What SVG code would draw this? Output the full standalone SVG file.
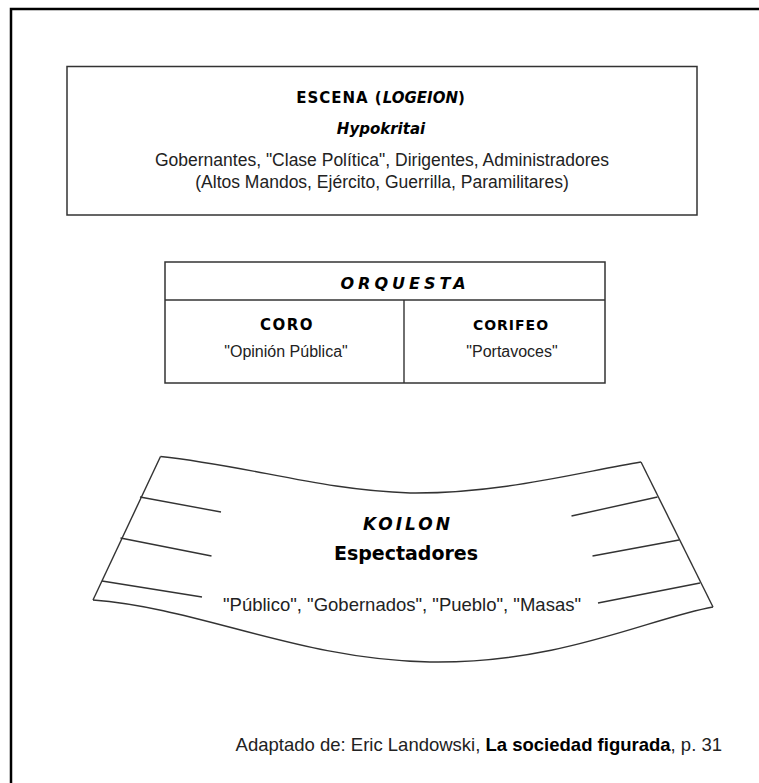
<svg xmlns="http://www.w3.org/2000/svg" width="759" height="783" viewBox="0 0 759 783">
<style>
.box{fill:#fff;stroke:#333;stroke-width:1.5}
.ln{fill:none;stroke:#333;stroke-width:1.4}
.hd{font-family:"DejaVu Sans",sans-serif;font-weight:bold;fill:#000;text-anchor:middle}
.tx{font-family:"Liberation Sans",Arial,sans-serif;fill:#222;text-anchor:middle}
</style>
<rect x="0" y="0" width="759" height="783" fill="#fff"/>
<path d="M11,783 V9 H759" fill="none" stroke="#000" stroke-width="2.5"/>
<g id="escena">
<rect class="box" x="67" y="66.5" width="630" height="148.5"/>
<text class="hd" x="381" y="103" font-size="15" letter-spacing="1">ESCENA (<tspan font-style="italic" letter-spacing="0">LOGEION</tspan>)</text>
<text class="hd" x="381" y="134" font-size="15" font-style="italic">Hypokritai</text>
<text class="tx" x="382" y="166" font-size="17.5">Gobernantes, "Clase Política", Dirigentes, Administradores</text>
<text class="tx" x="382" y="188" font-size="17.5">(Altos Mandos, Ejército, Guerrilla, Paramilitares)</text>
</g>
<g id="orquesta">
<rect class="box" x="165" y="262" width="440" height="121"/>
<line class="ln" x1="165" y1="300" x2="605" y2="300"/>
<line class="ln" x1="404" y1="300" x2="404" y2="383"/>
<text class="hd" x="405" y="289" font-size="16" font-style="italic" letter-spacing="4">ORQUESTA</text>
</g>
<g id="coro">
<text class="hd" x="287" y="330" font-size="15" letter-spacing="1.5">CORO</text>
<text class="tx" x="286" y="357" font-size="16">"Opinión Pública"</text>
</g>
<g id="corifeo">
<text class="hd" x="511" y="330" font-size="14" letter-spacing="1">CORIFEO</text>
<text class="tx" x="512" y="357" font-size="16">"Portavoces"</text>
</g>
<g id="koilon">
<path class="ln" d="M160.5,456.5 C250,466 320,490 410,493 C500,494 580,472 641,462"/>
<path class="ln" d="M160.5,456.5 L93,600"/>
<path class="ln" d="M641,462 L713,607"/>
<path class="ln" d="M93,600 C200,608 300,660 430,662 C560,664 650,618 713,607"/>
<path class="ln" d="M140,497 L221,512 M120.5,538 L211.5,556 M102,581 L202,597"/>
<path class="ln" d="M571.5,516 L657.5,497 M592.5,556 L679,540 M598,603 L700,583"/>
<text class="hd" x="408" y="530" font-size="17" font-style="italic" letter-spacing="3">KOILON</text>
<text class="hd" x="406" y="560" font-size="19">Espectadores</text>
<text class="tx" x="402" y="611" font-size="18.5">"Público", "Gobernados", "Pueblo", "Masas"</text>
</g>
<text class="tx" x="722" y="751" font-size="18.5" style="text-anchor:end">Adaptado de: Eric Landowski, <tspan font-weight="bold" fill="#000">La sociedad figurada</tspan>, p. 31</text>
</svg>
